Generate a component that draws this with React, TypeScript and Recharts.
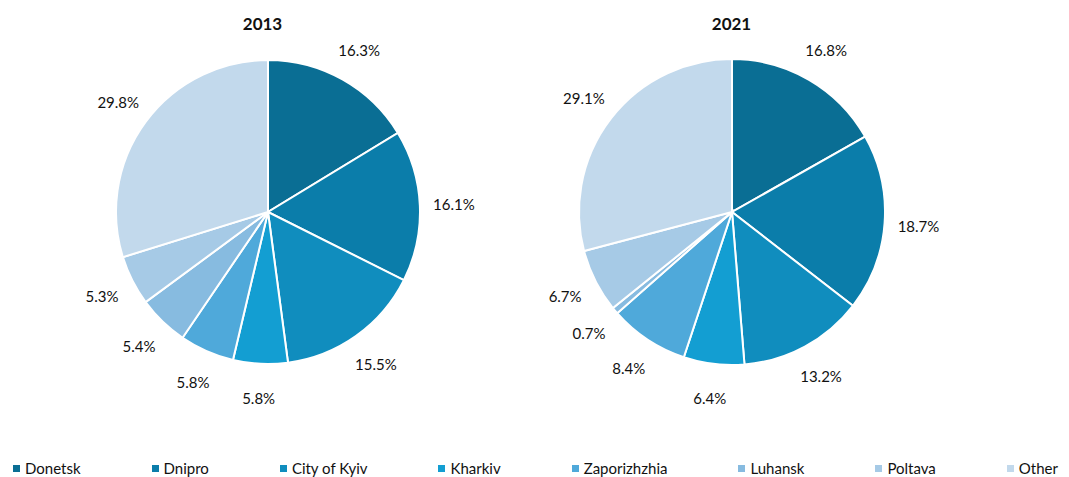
import React from 'react';
import { PieChart, Pie, Cell, Legend } from 'recharts';

const categories = ['Donetsk', 'Dnipro', 'City of Kyiv', 'Kharkiv', 'Zaporizhzhia', 'Luhansk', 'Poltava', 'Other'];
const values2013 = [16.3, 16.1, 15.5, 5.8, 5.8, 5.4, 5.3, 29.8];
const values2021 = [16.8, 18.7, 13.2, 6.4, 8.4, 0.7, 6.7, 29.1];
const years = ['2013', '2021'];
const colors = ['#0A6E94', '#0B7DAA', '#108DBE', '#139ED2', '#4FA9DA', '#87BBE0', '#A6CAE6', '#C2D9EC'];

const data2013 = categories.map((name, i) => ({ name, value: values2013[i] }));
const data2021 = categories.map((name, i) => ({ name, value: values2021[i] }));

const FONT = 'Lato, "Open Sans", sans-serif';
const RAD = Math.PI / 180;

const renderLabel = (props: any) => {
  const { cx, cy, midAngle, outerRadius, value } = props;
  const r = outerRadius + 34;
  const x = cx + r * Math.cos(-midAngle * RAD);
  const y = cy + r * Math.sin(-midAngle * RAD);
  return (
    <text x={x} y={y} textAnchor="middle" dominantBaseline="central" fill="#111" fontSize={15} fontFamily={FONT}>
      {`${value.toFixed(1)}%`}
    </text>
  );
};

const renderLegend = () => (
  <div style={{ display: 'flex', justifyContent: 'space-between', fontFamily: FONT, fontSize: 15, lineHeight: '18px', color: '#111' }}>
    {categories.map((c, i) => (
      <div key={c} style={{ display: 'flex', alignItems: 'center' }}>
        <span style={{ display: 'inline-block', width: 7, height: 7, background: colors[i], marginRight: 5 }} />
        <span>{c}</span>
      </div>
    ))}
  </div>
);

export default function App() {
  return (
    <div style={{ width: 1069, height: 477 }}>
      <style>{'body{margin:0;}'}</style>
      <PieChart width={1069} height={477} margin={{ top: 0, right: 0, bottom: 0, left: 0 }}>
        <text x={262.5} y={23} textAnchor="middle" dominantBaseline="central" fontFamily={FONT} fontWeight="bold" fontSize={17} fill="#111">{years[0]}</text>
        <text x={731.5} y={23} textAnchor="middle" dominantBaseline="central" fontFamily={FONT} fontWeight="bold" fontSize={17} fill="#111">{years[1]}</text>
        <Pie
          data={data2013}
          dataKey="value"
          nameKey="name"
          cx={268}
          cy={212}
          outerRadius={152}
          startAngle={90}
          endAngle={-270}
          stroke="#fff"
          strokeWidth={2}
          label={renderLabel}
          labelLine={false}
          isAnimationActive={false}
        >
          {data2013.map((d, i) => <Cell key={d.name} fill={colors[i]} />)}
        </Pie>
        <Pie
          data={data2021}
          dataKey="value"
          nameKey="name"
          cx={732}
          cy={212}
          outerRadius={153}
          startAngle={90}
          endAngle={-270}
          stroke="#fff"
          strokeWidth={2}
          label={renderLabel}
          labelLine={false}
          isAnimationActive={false}
        >
          {data2021.map((d, i) => <Cell key={d.name} fill={colors[i]} />)}
        </Pie>
        <Legend content={renderLegend} wrapperStyle={{ left: 13, width: 1045, bottom: 0 }} />
      </PieChart>
    </div>
  );
}
